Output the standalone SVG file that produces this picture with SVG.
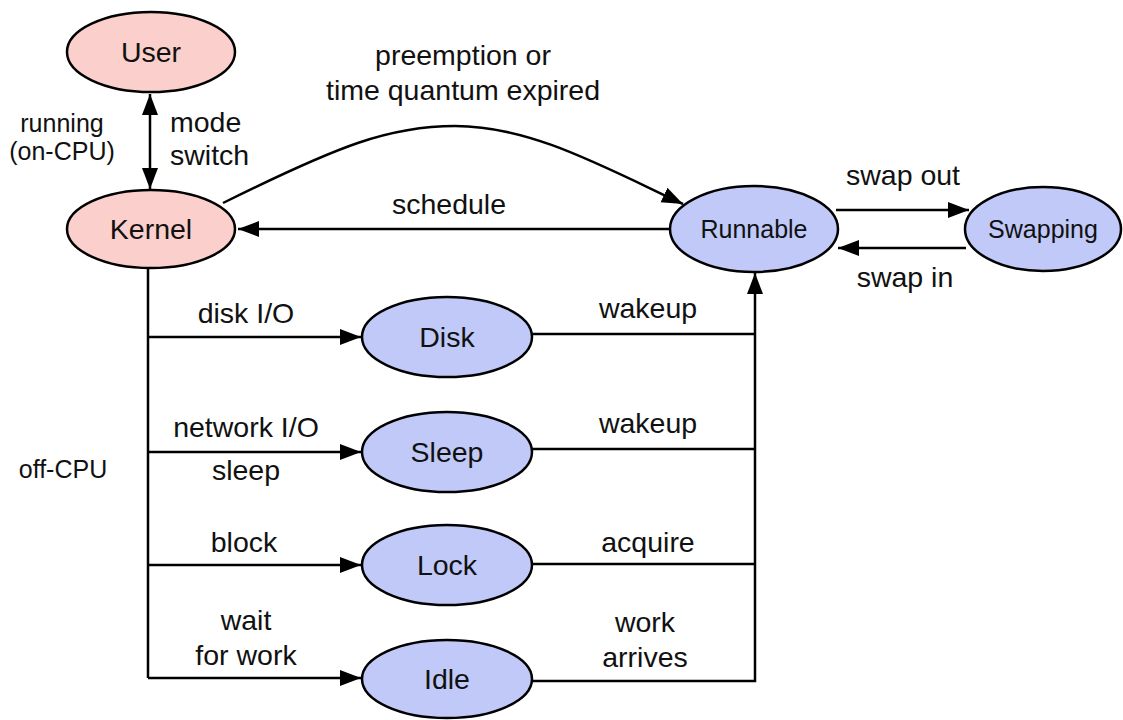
<svg xmlns="http://www.w3.org/2000/svg" width="1123" height="720" viewBox="0 0 1123 720">
<style>
text{font-family:"Liberation Sans",Arial,sans-serif;fill:#111;text-anchor:middle}
.big{font-size:28.5px}
.sm{font-size:25px}
.pink{fill:#fbcfcb;stroke:#000;stroke-width:2.5}
.blue{fill:#c0c9f8;stroke:#000;stroke-width:2.5}
.ln{fill:none;stroke:#000;stroke-width:2.5}
.arr{marker-end:url(#ah)}
</style>
<defs>
<marker id="ah" markerUnits="userSpaceOnUse" markerWidth="22" markerHeight="18" viewBox="0 0 22 18" refX="21" refY="9" orient="auto-start-reverse">
<path d="M0,1 L21,9 L0,17 z" fill="#000"/>
</marker>
</defs>
<g id="connectors">
<line class="ln arr" x1="150" y1="94" x2="150" y2="189" style="marker-start:url(#ah)"/>
<path class="ln arr" d="M223,203 C340,145 390,126 455,126 C530,126 600,165 683,204"/>
<line class="ln arr" x1="670" y1="229" x2="238" y2="229"/>
<line class="ln arr" x1="836" y1="210" x2="969" y2="210"/>
<line class="ln arr" x1="966" y1="248" x2="838" y2="248"/>
<polyline class="ln" points="148,268 148,678"/>
<line class="ln arr" x1="148" y1="337" x2="361" y2="337"/>
<line class="ln arr" x1="148" y1="452" x2="361" y2="452"/>
<line class="ln arr" x1="148" y1="565" x2="361" y2="565"/>
<line class="ln arr" x1="148" y1="678" x2="361" y2="678"/>
<line class="ln" x1="533" y1="334" x2="755" y2="334"/>
<line class="ln" x1="533" y1="449" x2="755" y2="449"/>
<line class="ln" x1="533" y1="564" x2="755" y2="564"/>
<polyline class="ln arr" points="533,681 755,681 755,273"/>
<text class="big" x="463" y="65">preemption or</text>
<text class="big" x="463" y="100">time quantum expired</text>
<text class="big" x="449" y="214">schedule</text>
<text class="big" x="903" y="185">swap out</text>
<text class="big" x="905" y="287">swap in</text>
<text class="sm" x="62" y="132">running</text>
<text class="sm" x="62" y="160">(on-CPU)</text>
<text class="big" x="170" y="132" style="text-anchor:start">mode</text>
<text class="big" x="170" y="165" style="text-anchor:start">switch</text>
<text class="sm" x="63" y="478">off-CPU</text>
<text class="big" x="246" y="323">disk I/O</text>
<text class="big" x="246" y="437">network I/O</text>
<text class="big" x="246" y="480">sleep</text>
<text class="big" x="244" y="552">block</text>
<text class="big" x="246" y="630">wait</text>
<text class="big" x="246" y="665">for work</text>
<text class="big" x="648" y="318">wakeup</text>
<text class="big" x="648" y="433">wakeup</text>
<text class="big" x="648" y="552">acquire</text>
<text class="big" x="645" y="632">work</text>
<text class="big" x="645" y="667">arrives</text>
</g>
<g id="user"><ellipse class="pink" cx="151" cy="52" rx="84" ry="40"/><text class="big" x="151" y="62">User</text></g>
<g id="kernel"><ellipse class="pink" cx="151" cy="229" rx="84" ry="39"/><text class="big" x="151" y="239">Kernel</text></g>
<g id="runnable"><ellipse class="blue" cx="754" cy="229" rx="84" ry="43"/><text class="sm" x="754" y="238">Runnable</text></g>
<g id="swapping"><ellipse class="blue" cx="1043" cy="229" rx="78" ry="42"/><text class="sm" x="1043" y="238">Swapping</text></g>
<g id="disk"><ellipse class="blue" cx="447" cy="337" rx="85" ry="40"/><text class="big" x="447" y="347">Disk</text></g>
<g id="sleep"><ellipse class="blue" cx="447" cy="452" rx="85" ry="40"/><text class="big" x="447" y="462">Sleep</text></g>
<g id="lock"><ellipse class="blue" cx="447" cy="565" rx="85" ry="40"/><text class="big" x="447" y="575">Lock</text></g>
<g id="idle"><ellipse class="blue" cx="447" cy="679" rx="85" ry="39"/><text class="big" x="447" y="689">Idle</text></g>
</svg>
